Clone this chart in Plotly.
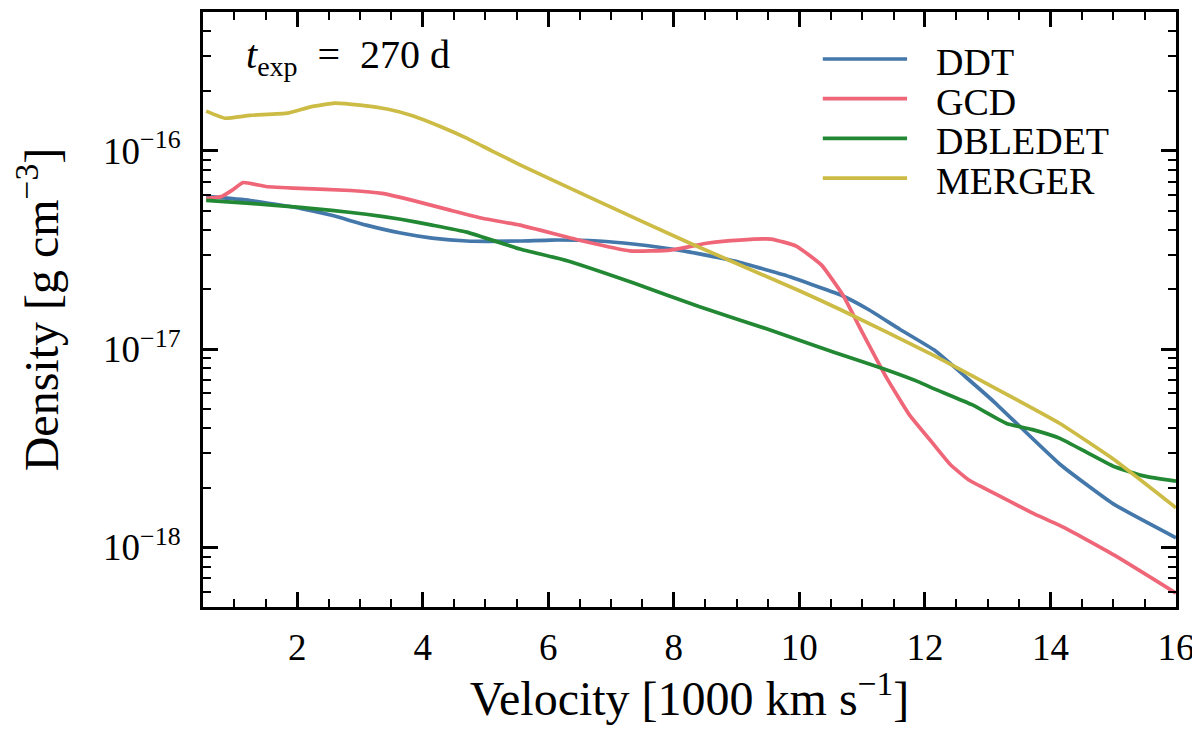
import plotly.graph_objects as go

# velocity in 1000 km/s, density in g cm^-3
ddt_v = [0.55, 1.25, 2.05, 2.55, 3.1, 3.65, 4.15, 4.7, 5.55, 6.05, 6.8, 7.35, 8.15,
         8.95, 9.75, 10.65, 11.1, 11.6, 12.15, 12.65, 13.1, 14.15, 15.0, 16.0]
ddt_rho = [5.89e-17, 5.62e-17, 5.13e-17, 4.73e-17, 4.22e-17, 3.85e-17, 3.63e-17, 3.51e-17,
           3.51e-17, 3.55e-17, 3.51e-17, 3.39e-17, 3.13e-17, 2.79e-17, 2.37e-17, 1.88e-17,
           1.585e-17, 1.26e-17, 9.89e-18, 7.24e-18, 5.43e-18, 2.63e-18, 1.66e-18, 1.12e-18]

gcd_v = [0.55, 0.8, 0.98, 1.14, 1.5, 2.05, 2.85, 3.35, 3.9, 4.45, 4.95, 5.55, 6.55, 7.3,
         7.95, 8.55, 9.05, 9.55, 9.95, 10.35, 10.7, 11.0, 11.4, 11.75, 12.1, 12.4, 12.7,
         13.1, 13.7, 14.25, 15.05, 16.0]
gcd_rho = [5.75e-17, 5.89e-17, 6.38e-17, 6.92e-17, 6.61e-17, 6.46e-17, 6.31e-17, 6.10e-17,
           5.56e-17, 5.01e-17, 4.57e-17, 4.22e-17, 3.51e-17, 3.13e-17, 3.16e-17, 3.43e-17,
           3.55e-17, 3.59e-17, 3.31e-17, 2.66e-17, 1.86e-17, 1.22e-17, 7.08e-18, 4.68e-18,
           3.43e-18, 2.63e-18, 2.19e-18, 1.88e-18, 1.50e-18, 1.245e-18, 9.02e-19, 5.89e-19]

dbledet_v = [0.55, 1.25, 2.05, 2.55, 3.1, 3.65, 4.15, 4.7, 5.55, 6.3, 7.35, 8.4, 9.5,
             10.55, 11.35, 11.9, 12.15, 12.75, 13.3, 13.7, 14.15, 14.6, 15.0, 15.5, 16.0]
dbledet_rho = [5.62e-17, 5.43e-17, 5.19e-17, 5.01e-17, 4.79e-17, 4.52e-17, 4.22e-17, 3.89e-17,
               3.20e-17, 2.79e-17, 2.16e-17, 1.64e-17, 1.26e-17, 9.66e-18, 7.94e-18, 6.84e-18,
               6.31e-18, 5.25e-18, 4.22e-18, 3.94e-18, 3.55e-18, 2.99e-18, 2.57e-18, 2.29e-18,
               2.16e-18]

merger_v = [0.55, 0.85, 1.25, 1.85, 2.2, 2.6, 3.0, 3.45, 3.85, 4.3, 4.7, 5.1, 5.55, 6.8,
            8.25, 10.0, 10.65, 12.1, 14.15, 15.0, 16.0]
merger_rho = [1.585e-16, 1.46e-16, 1.51e-16, 1.55e-16, 1.66e-16, 1.74e-16, 1.70e-16, 1.62e-16,
              1.50e-16, 1.32e-16, 1.16e-16, 1.0e-16, 8.5e-17, 5.56e-17, 3.43e-17, 1.97e-17,
              1.585e-17, 9.44e-18, 4.22e-18, 2.79e-18, 1.585e-18]

x_ticks = [2, 4, 6, 8, 10, 12, 14, 16]
y_ticks = [1e-18, 1e-17, 1e-16]
y_ticktext = ["10<sup>−18</sup>", "10<sup>−17</sup>", "10<sup>−16</sup>"]
y_minor = [m * 10.0 ** e for e in (-19, -18, -17, -16) for m in range(2, 10)]

FONT = "Liberation Serif"

models = [
    ("DDT", ddt_v, ddt_rho, "#4477AA"),
    ("GCD", gcd_v, gcd_rho, "#EE6677"),
    ("DBLEDET", dbledet_v, dbledet_rho, "#228833"),
    ("MERGER", merger_v, merger_rho, "#CCBB44"),
]

fig = go.Figure()
for name, v, rho, col in models:
    fig.add_trace(go.Scatter(x=v, y=rho, name=name, mode="lines", showlegend=False,
                             line=dict(color=col, width=3.7, shape="spline", smoothing=0.4)))

# legend drawn by hand so the sample lines are as long as in the original
for i, (name, v, rho, col) in enumerate(models):
    ly = 0.921 - i * 0.0667
    fig.add_shape(type="line", xref="paper", yref="paper", x0=0.637, x1=0.7236, y0=ly, y1=ly,
                  line=dict(color=col, width=3.7))
    fig.add_annotation(x=0.752, y=ly, xref="paper", yref="paper", xanchor="left", yanchor="middle",
                       text=name, showarrow=False, borderpad=0, yshift=-3,
                       font=dict(family=FONT, size=38, color="black"))

axis_common = dict(
    showline=True, linecolor="black", linewidth=3, mirror="allticks",
    ticks="inside", ticklen=15, tickwidth=2.5, tickcolor="black",
    showgrid=False, zeroline=False,
    tickfont=dict(family=FONT, size=37, color="black"),
)

fig.update_xaxes(
    range=[0.5, 16], tickvals=x_ticks,
    minor=dict(ticks="inside", ticklen=8, tickwidth=2, tickcolor="black", dtick=0.5),
    ticklabelstandoff=6, ticklabeloverflow="allow",
    title=dict(text="Velocity [1000 km s<sup>−1</sup>]", font=dict(family=FONT, size=48, color="black"),
               standoff=1),
    **axis_common,
)
fig.update_yaxes(
    type="log", range=[-18.3, -15.3], tickvals=y_ticks, ticktext=y_ticktext,
    minor=dict(ticks="inside", ticklen=8, tickwidth=2, tickcolor="black", tickvals=y_minor),
    ticklabelstandoff=12,
    title=dict(text="Density [g cm<sup>−3</sup>]", font=dict(family=FONT, size=48, color="black"),
               standoff=40),
    **axis_common,
)

fig.add_annotation(
    x=0.043, y=0.925, xref="paper", yref="paper", xanchor="left", yanchor="middle",
    text="<i>t</i><sub>exp</sub>&nbsp; =&nbsp; 270 d", showarrow=False, borderpad=0,
    font=dict(family=FONT, size=40, color="black"),
)

fig.update_layout(
    width=1190, height=717,
    margin=dict(l=195, r=22, t=1, b=118),
    paper_bgcolor="white", plot_bgcolor="white",
)

fig.write_html("out.html")
